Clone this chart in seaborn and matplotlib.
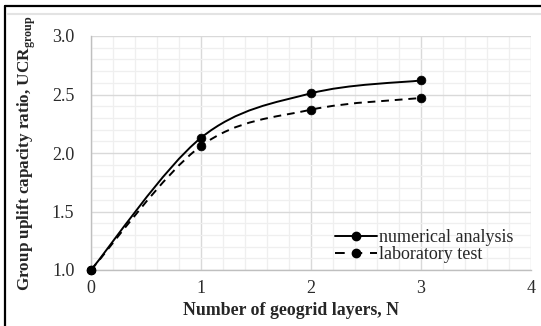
import numpy as np
import pandas as pd
import seaborn as sns
import matplotlib
matplotlib.use("Agg")
import matplotlib.pyplot as plt
from matplotlib.path import Path
from matplotlib.patches import PathPatch
from matplotlib.lines import Line2D
from matplotlib.ticker import MultipleLocator

# ---- data ----
layers = [0, 1, 2, 3]
numerical = [1.00, 2.13, 2.51, 2.62]
laboratory = [1.00, 2.06, 2.37, 2.47]
series_names = ["numerical analysis", "laboratory test"]
x_ticks = [0, 1, 2, 3, 4]
y_ticks = [1.0, 1.5, 2.0, 2.5, 3.0]

sns.set_theme(style="white")
plt.rcParams["font.family"] = ["Liberation Serif", "DejaVu Serif"]
plt.rcParams["mathtext.fontset"] = "custom"
plt.rcParams["mathtext.rm"] = "Liberation Serif"
plt.rcParams["mathtext.bf"] = "Liberation Serif:bold"

W, H = 541, 326
fig = plt.figure(figsize=(W / 100, H / 100), dpi=100)
ax = fig.add_axes([91 / W, 1 - 270 / H, (531 - 91) / W, (270 - 36) / H])

df = pd.DataFrame({
    "N": layers * 2,
    "UCR": numerical + laboratory,
    "series": [series_names[0]] * len(layers) + [series_names[1]] * len(layers),
})


def smooth_path(xs, ys):
    pts = np.column_stack([xs, ys]).astype(float)
    n = len(pts)
    verts = [pts[0]]
    codes = [Path.MOVETO]
    for i in range(n - 1):
        p0 = pts[i - 1] if i > 0 else pts[i]
        p1 = pts[i]
        p2 = pts[i + 1]
        p3 = pts[i + 2] if i + 2 < n else pts[i + 1]
        c1 = p1 + (p2 - p0) / 6.0
        c2 = p2 - (p3 - p1) / 6.0
        verts += [c1, c2, p2]
        codes += [Path.CURVE4] * 3
    return Path(verts, codes)


styles = {series_names[0]: "-", series_names[1]: (0, (4, 3))}
for name, vals in zip(series_names, [numerical, laboratory]):
    patch = PathPatch(smooth_path(layers, vals), facecolor="none", edgecolor="black",
                      linewidth=1.4, linestyle=styles[name], zorder=3)
    ax.add_patch(patch)

sns.scatterplot(data=df, x="N", y="UCR", color="black", s=40, edgecolor="black",
                linewidth=0.5, ax=ax, zorder=4, legend=False, clip_on=False)

ax.set_xlim(0, 4)
ax.set_ylim(1.0, 3.0)
ax.set_xticks(x_ticks)
ax.set_yticks(y_ticks)
ax.set_xticklabels([str(v) for v in x_ticks])
ax.set_yticklabels([f"{v:.1f}" for v in y_ticks])
ax.xaxis.set_minor_locator(MultipleLocator(0.2))
ax.yaxis.set_minor_locator(MultipleLocator(0.1))
ax.grid(which="major", color="#d9d9d9", linewidth=1.0, zorder=0)
ax.grid(which="minor", color="#efefef", linewidth=0.9, zorder=0)
ax.set_axisbelow(True)
for s in ["top", "right"]:
    ax.spines[s].set_visible(False)
for s in ["left", "bottom"]:
    ax.spines[s].set_color("#bfbfbf")
    ax.spines[s].set_linewidth(1.0)
ax.tick_params(axis="x", which="major", direction="out", length=4, color="#bfbfbf",
               labelsize=13, pad=3, labelcolor="#2b2b2b")
ax.tick_params(axis="y", which="major", length=0, labelsize=13, pad=12, labelcolor="#2b2b2b")
ax.tick_params(which="minor", length=0)

ax.set_xlabel("Number of geogrid layers, N", fontsize=12.8, fontweight="bold")
ax.xaxis.set_label_coords((291 - 91) / 440, -0.138)
ax.set_ylabel(r"Group uplift capacity ratio, UCR$_{\mathregular{group}}$", fontsize=12.3,
              fontweight="bold")
ax.yaxis.set_label_coords(-0.12, 0.5)

handles = [
    Line2D([], [], color="black", linewidth=1.4, linestyle="-", marker="o", markersize=6),
    Line2D([], [], color="black", linewidth=1.4, linestyle=(0, (5, 4)), marker="o", markersize=6),
]
ax.legend(handles, series_names, loc="lower left", bbox_to_anchor=(0.555, 0.03),
          frameon=False, fontsize=13, handlelength=2.3, handletextpad=0.1,
          labelspacing=0.0, borderaxespad=0.0, borderpad=0.0)

# outer frame
fig.add_artist(Line2D([5 / W, 1], [1 - 6 / H, 1 - 6 / H], color="black", linewidth=1.6,
                      transform=fig.transFigure))
fig.add_artist(Line2D([5 / W, 5 / W], [0, 1 - 6 / H], color="black", linewidth=1.6,
                      transform=fig.transFigure))
fig.add_artist(Line2D([8 / W, 1], [1 - 13.5 / H, 1 - 13.5 / H], color="#e3e3e3", linewidth=1.5,
                      transform=fig.transFigure))

fig.savefig("out.png", dpi=100)
